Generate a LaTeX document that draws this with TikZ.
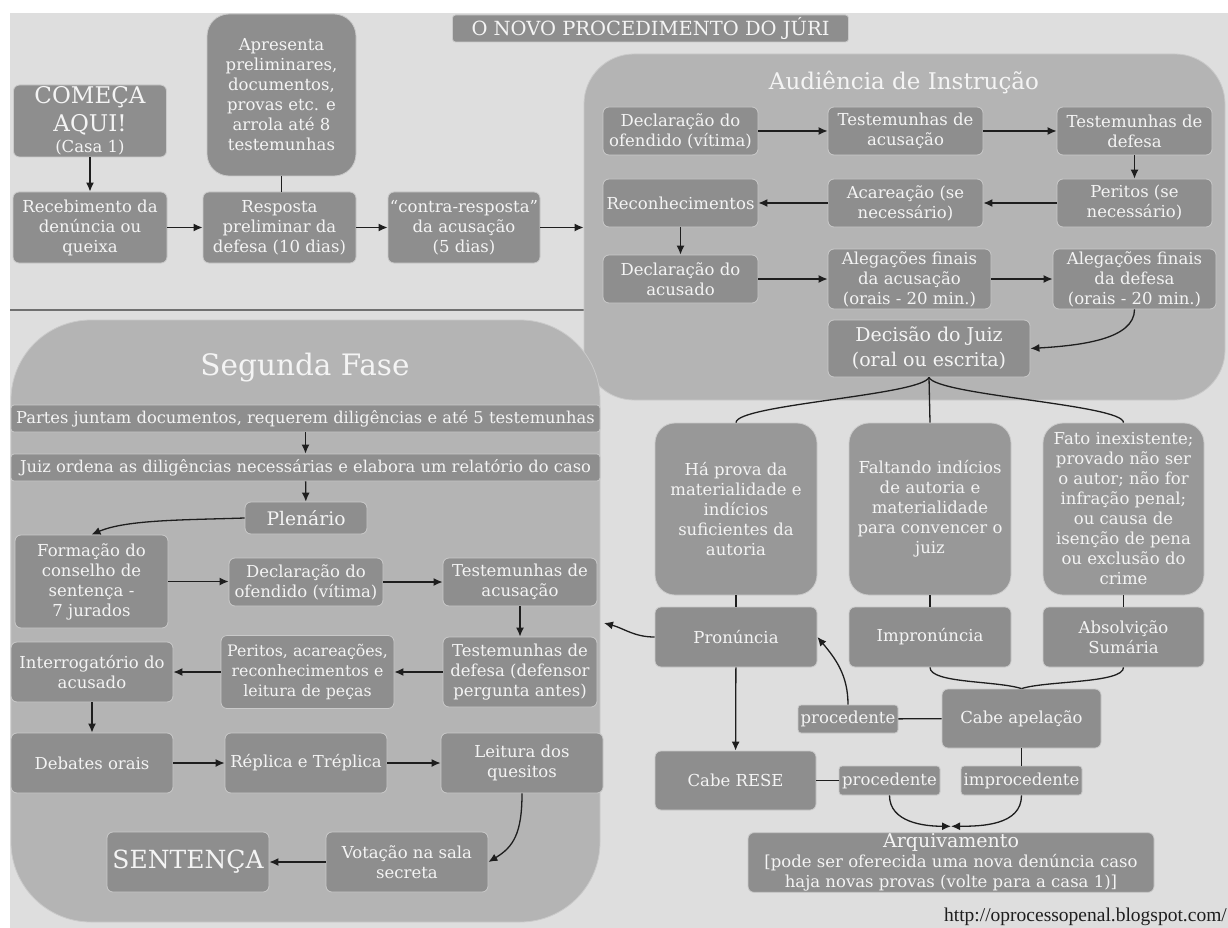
\documentclass[tikz,border=0pt]{standalone}
\usepackage{fontspec}
\setmainfont{DejaVu Serif}
\newfontfamily\webfont{Liberation Serif}
\usetikzlibrary{arrows.meta,positioning}

\definecolor{pagebg}{HTML}{DEDEDE}
\definecolor{panelgray}{HTML}{B4B4B4}
\definecolor{boxgray}{HTML}{8E8E8E}
\definecolor{biggray}{HTML}{989898}
\definecolor{rimgray}{HTML}{CACACA}
\definecolor{inkgray}{HTML}{1E1E1E}
\definecolor{rulegray}{HTML}{707070}
\definecolor{boxtext}{HTML}{F4F4F4}

\newcommand{\boxfont}{\fontsize{16.5}{20}\selectfont}

\tikzset{
  box/.style={rectangle, rounded corners=6pt, draw=rimgray, line width=0.8pt,
    fill=boxgray, text=boxtext, align=center, inner sep=1pt, font=\boxfont},
  bigbox/.style={box, rounded corners=20pt, fill=biggray},
  tagbox/.style={box, rounded corners=3pt},
  panel/.style={rectangle, rounded corners=#1, draw=rimgray, line width=0.8pt,
    fill=panelgray, inner sep=0pt},
  boxsize/.style 2 args={minimum width=#1pt, minimum height=#2pt},
  flow/.style={->, draw=inkgray, line width=1.3pt},
  link/.style={draw=inkgray, line width=1.3pt},
}

\begin{document}
\begin{tikzpicture}[x=1pt, y=-1pt, >={Latex[length=9pt, width=8pt]}]
    \useasboundingbox (0,0) rectangle (1228,928);
    \fill [white] (0,0) rectangle (1228,928);
    \fill [pagebg] (10,13) rectangle (1228,928);
    \draw [rulegray, line width=2pt] (10,310) -- (584,310);

    % the two big phases
    \node [panel=50pt, boxsize={641}{346}] (audi) at (904.5,227) {};
    \node [panel=80pt, boxsize={589}{602}] (fase2) at (305.5,621) {};
    \node [text=boxtext, font=\fontsize{23}{27}\selectfont] (audtitle) at (904,83) {Audiência de Instrução};
    \node [text=boxtext, font=\fontsize{29.5}{34}\selectfont] (f2title) at (305,368) {Segunda Fase};

    \node [tagbox, boxsize={396}{27}, font=\fontsize{19.5}{22}\selectfont] (title) at (650.5,28.5) {O NOVO PROCEDIMENTO DO JÚRI};

    % first steps
    \node [box, boxsize={153}{72}, font=\fontsize{23}{28}\selectfont] (start) at (90,121) {COMEÇA\\AQUI!\\[-7pt]{\boxfont (Casa 1)}};
    \node [box, boxsize={154}{71}] (receb) at (90,227.5) {Recebimento da\\denúncia ou\\queixa};
    \node [box, boxsize={149}{162}, rounded corners=22pt] (apres) at (281.5,95) {Apresenta\\preliminares,\\documentos,\\provas etc. e\\arrola até 8\\testemunhas};
    \node [box, boxsize={153}{71}, node distance=189.5pt, right of=receb] (resp) {Resposta\\preliminar da\\defesa (10 dias)};
    \node [box, boxsize={152}{71}, node distance=184.5pt, right of=resp] (contra) {“contra-resposta”\\da acusação\\(5 dias)};

    % audiencia de instrucao
    \node [box, boxsize={155}{48}] (decl1) at (680.5,131) {Declaração do\\ofendido (vítima)};
    \node [box, boxsize={155}{48}, node distance=225pt, right of=decl1] (tacus1) {Testemunhas de\\acusação};
    \node [box, boxsize={155}{48}, node distance=229pt, right of=tacus1] (tdef1) {Testemunhas de\\defesa};
    \node [box, boxsize={155}{48}, node distance=72pt, below of=decl1] (recon) {Reconhecimentos};
    \node [box, boxsize={155}{48}, node distance=72pt, below of=tacus1] (acar) {Acareação (se\\necessário)};
    \node [box, boxsize={155}{48}, node distance=72pt, below of=tdef1] (perit1) {Peritos (se\\necessário)};
    \node [box, boxsize={155}{48}, node distance=76pt, below of=recon] (declac) {Declaração do\\acusado};
    \node [box, boxsize={163}{60}] (alacus) at (909.5,279) {Alegações finais\\da acusação\\(orais - 20 min.)};
    \node [box, boxsize={163}{60}] (aldef) at (1134.5,279) {Alegações finais\\da defesa\\(orais - 20 min.)};
    \node [box, boxsize={202}{57}, font=\fontsize{19}{25}\selectfont] (dec) at (929,348.5) {Decisão do Juiz\\(oral ou escrita)};

    % segunda fase
    \node [tagbox, boxsize={589}{27}, font=\fontsize{16.3}{20}\selectfont] (bar1) at (305.5,418.5) {Partes juntam documentos, requerem diligências e até 5 testemunhas};
    \node [tagbox, boxsize={589}{27}, font=\fontsize{16.3}{20}\selectfont, node distance=49pt, below of=bar1] (bar2) {Juiz ordena as diligências necessárias e elabora um relatório do caso};
    \node [box, boxsize={122}{32}, font=\fontsize{18.7}{22}\selectfont] (plen) at (306,518) {Plenário};
    \node [box, boxsize={153}{93}] (form) at (91.5,581.5) {Formação do\\conselho de\\sentença -\\7 jurados};
    \node [box, boxsize={154}{48}] (decl2) at (306,582) {Declaração do\\ofendido (vítima)};
    \node [box, boxsize={154}{48}, node distance=214pt, right of=decl2] (tacus2) {Testemunhas de\\acusação};
    \node [box, boxsize={154}{70}, node distance=90pt, below of=tacus2] (tdef2) {Testemunhas de\\defesa (defensor\\pergunta antes)};
    \node [box, boxsize={173}{73}, font=\fontsize{15.8}{20}\selectfont] (perit2) at (307.5,672) {Peritos, acareações,\\reconhecimentos e\\leitura de peças};
    \node [box, boxsize={162}{60}] (interr) at (92,672) {Interrogatório do\\acusado};
    \node [box, boxsize={162}{60}, node distance=91pt, below of=interr] (debat) {Debates orais};
    \node [box, boxsize={162}{60}, node distance=214pt, right of=debat] (repl) {Réplica e Tréplica};
    \node [box, boxsize={162}{60}, node distance=216pt, right of=repl] (leit) {Leitura dos\\quesitos};
    \node [box, boxsize={162}{60}] (vot) at (407,862) {Votação na sala\\secreta};
    \node [box, boxsize={162}{60}, font=\fontsize{25}{30}\selectfont, node distance=219pt, left of=vot] (sent) {SENTENÇA};

    % what the judge may decide
    \node [bigbox, boxsize={162}{172}] (hap) at (736,509) {Há prova da\\materialidade e\\indícios\\suficientes da\\autoria};
    \node [bigbox, boxsize={162}{172}, node distance=194pt, right of=hap] (falt) {Faltando indícios\\de autoria e\\materialidade\\para convencer o\\juiz};
    \node [bigbox, boxsize={161}{172}, node distance=193.5pt, right of=falt] (fato) {Fato inexistente;\\provado não ser\\o autor; não for\\infração penal;\\ou causa de\\isenção de pena\\ou exclusão do\\crime};
    \node [box, boxsize={162}{60}, node distance=128pt, below of=hap] (pron) {Pronúncia};
    \node [box, boxsize={162}{60}, node distance=128pt, below of=falt] (impr) {Impronúncia};
    \node [box, boxsize={161}{60}, node distance=128pt, below of=fato] (absol) {Absolvição\\Sumária};
    \node [box, boxsize={159}{59}] (apel) at (1021.5,718.5) {Cabe apelação};
    \node [tagbox, boxsize={100}{28}] (proc1) at (848,719) {procedente};
    \node [box, boxsize={161}{59}] (rese) at (735.5,780.5) {Cabe RESE};
    \node [tagbox, boxsize={101}{29}] (proc2) at (889.5,780.5) {procedente};
    \node [tagbox, boxsize={121}{29}, node distance=62pt, below of=apel] (improc) {improcedente};
    \node [box, boxsize={406}{59}] (arq) at (951,862.5) {{\fontsize{19}{20}\selectfont Arquivamento}\\{[}pode ser oferecida uma nova denúncia caso\\haja novas provas (volte para a casa 1)]};
    \coordinate (f2entry) at (604,623);

    \node [anchor=base east, inner sep=0pt, text=inkgray, font=\webfont\fontsize{19.5}{22}\selectfont] (weblink) at (1227,921) {http://oprocessopenal.blogspot.com/};

    % connectors, first steps
    \draw [flow] (start) -- (receb);
    \draw [flow] (receb) -- (resp);
    \draw [link] (apres.south) -- (apres.south |- resp.north);
    \draw [flow] (resp) -- (contra);
    \draw [flow] (contra) -- (contra -| audi.west);

    % connectors, audiencia
    \draw [flow] (decl1) -- (tacus1);
    \draw [flow] (tacus1) -- (tdef1);
    \draw [flow] (tdef1) -- (perit1);
    \draw [flow] (perit1) -- (acar);
    \draw [flow] (acar) -- (recon);
    \draw [flow] (recon) -- (declac);
    \draw [flow] (declac) -- (declac -| alacus.west);
    \draw [flow] (alacus) -- (aldef);
    \draw [flow] (aldef.south) .. controls +(0,30) and +(50,-3) .. (dec.east);

    % connectors, decision
    \draw [link] (dec.south) .. controls +(-8,18) and +(0,-18) .. (hap.north);
    \draw [link] (dec.south) -- (falt.north);
    \draw [link] (dec.south) .. controls +(8,18) and +(0,-18) .. (fato.north);
    \draw [link] (hap) -- (pron);
    \draw [link] (falt) -- (impr);
    \draw [link] (fato) -- (absol);
    \draw [flow] (pron.west) to[out=180, in=-15] (f2entry);
    \draw [flow] (pron) -- (rese);
    \draw [link] (impr.south) .. controls +(0,16) and +(-25,-8) .. (apel.north);
    \draw [link] (absol.south) .. controls +(0,16) and +(25,-8) .. (apel.north);
    \draw [link] (apel) -- (proc1);
    \draw [flow] (proc1.north) to[out=90, in=-50] (pron.east);
    \draw [link] (rese) -- (proc2);
    \draw [link] (apel) -- (improc);
    \draw [flow] (proc2.south) to[out=-90, in=180] ([yshift=6pt]arq.north);
    \draw [flow] (improc.south) to[out=-90, in=0] ([yshift=6pt]arq.north);

    % connectors, segunda fase
    \draw [flow] (bar1) -- (bar2);
    \draw [flow] (bar2) -- (plen);
    \draw [flow] (plen.west) .. controls +(-60,2) and +(35,-15) .. (form.north);
    \draw [flow] (form) -- (form -| decl2.west);
    \draw [flow] (decl2) -- (tacus2);
    \draw [flow] (tacus2) -- (tdef2);
    \draw [flow] (tdef2) -- (perit2);
    \draw [flow] (perit2) -- (interr);
    \draw [flow] (interr) -- (debat);
    \draw [flow] (debat) -- (repl);
    \draw [flow] (repl) -- (leit);
    \draw [flow] (leit.south) .. controls +(0,40) and +(25,-15) .. (vot.east);
    \draw [flow] (vot) -- (sent);
\end{tikzpicture}
\end{document}
